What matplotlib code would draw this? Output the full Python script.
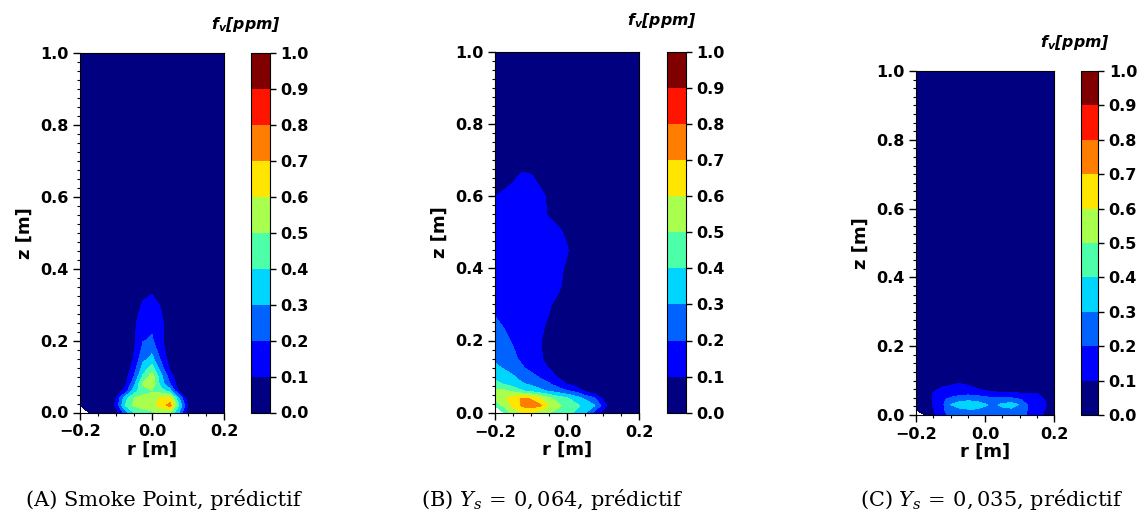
import numpy as np
import matplotlib
matplotlib.use("Agg")
import matplotlib.pyplot as plt
from matplotlib.ticker import MultipleLocator

plt.rcParams['mathtext.fontset'] = 'custom'
plt.rcParams['mathtext.rm'] = 'DejaVu Serif'
plt.rcParams['mathtext.it'] = 'DejaVu Serif:italic'
plt.rcParams['mathtext.bf'] = 'DejaVu Sans:bold:italic'

nan = np.nan

# radial grid (same for the three cases)
r = [-0.2, -0.175, -0.15, -0.125, -0.1, -0.075, -0.05, -0.025, 0.0,
     0.025, 0.05, 0.075, 0.1, 0.125, 0.15, 0.175, 0.2]

levels = [0.0, 0.1, 0.2, 0.3, 0.4, 0.5, 0.6, 0.7, 0.8, 0.9, 1.0]

# (A) smoke point, predictive
z_a = [0.0, 0.02, 0.04, 0.06, 0.08, 0.10, 0.12, 0.15, 0.20, 0.25, 0.30, 0.35, 0.40, 1.0]
fv_a = [
    [nan, 0, 0, 0, 0.04, 0.25, 0.40, 0.45, 0.48, 0.52, 0.50, 0.30, 0.05, 0, 0, 0, 0],
    [0, 0, 0, 0, 0.12, 0.40, 0.52, 0.55, 0.56, 0.64, 0.74, 0.40, 0.08, 0, 0, 0, 0],
    [0, 0, 0, 0, 0.10, 0.35, 0.50, 0.52, 0.54, 0.62, 0.64, 0.30, 0.04, 0, 0, 0, 0],
    [0, 0, 0, 0, 0.03, 0.14, 0.35, 0.47, 0.49, 0.45, 0.35, 0.08, 0, 0, 0, 0, 0],
    [0, 0, 0, 0, 0, 0.07, 0.27, 0.51, 0.58, 0.35, 0.20, 0.03, 0, 0, 0, 0, 0],
    [0, 0, 0, 0, 0, 0.05, 0.20, 0.42, 0.55, 0.33, 0.15, 0.02, 0, 0, 0, 0, 0],
    [0, 0, 0, 0, 0, 0.02, 0.16, 0.35, 0.46, 0.25, 0.09, 0, 0, 0, 0, 0, 0],
    [0, 0, 0, 0, 0, 0, 0.11, 0.27, 0.33, 0.18, 0.05, 0, 0, 0, 0, 0, 0],
    [0, 0, 0, 0, 0, 0, 0.08, 0.195, 0.215, 0.12, 0.03, 0, 0, 0, 0, 0, 0],
    [0, 0, 0, 0, 0, 0, 0.08, 0.16, 0.17, 0.12, 0.04, 0, 0, 0, 0, 0, 0],
    [0, 0, 0, 0, 0, 0, 0.02, 0.12, 0.14, 0.09, 0, 0, 0, 0, 0, 0, 0],
    [0, 0, 0, 0, 0, 0, 0, 0.03, 0.07, 0.03, 0, 0, 0, 0, 0, 0, 0],
    [0, 0, 0, 0, 0, 0, 0, 0, 0, 0, 0, 0, 0, 0, 0, 0, 0],
    [0, 0, 0, 0, 0, 0, 0, 0, 0, 0, 0, 0, 0, 0, 0, 0, 0],
]

# (B) Ys = 0,064, predictive
z_b = [0.0, 0.02, 0.04, 0.06, 0.08, 0.10, 0.125, 0.15, 0.20, 0.25, 0.30, 0.35,
       0.40, 0.45, 0.50, 0.55, 0.60, 0.65, 0.70, 1.0]
fv_b = [
    [nan, 0.40, 0.55, 0.60, 0.60, 0.55, 0.50, 0.47, 0.44, 0.38, 0.31, 0.18, 0.05, 0, 0, 0, 0],
    [0.45, 0.52, 0.62, 0.72, 0.75, 0.72, 0.59, 0.52, 0.47, 0.42, 0.37, 0.31, 0.16, 0, 0, 0, 0],
    [0.52, 0.58, 0.65, 0.71, 0.69, 0.61, 0.52, 0.46, 0.41, 0.35, 0.28, 0.22, 0.08, 0, 0, 0, 0],
    [0.53, 0.52, 0.48, 0.41, 0.37, 0.33, 0.29, 0.25, 0.21, 0.17, 0.08, 0.03, 0, 0, 0, 0, 0],
    [0.43, 0.39, 0.35, 0.31, 0.28, 0.24, 0.21, 0.15, 0.095, 0.06, 0.02, 0, 0, 0, 0, 0, 0],
    [0.37, 0.34, 0.31, 0.26, 0.23, 0.19, 0.14, 0.09, 0.06, 0.02, 0, 0, 0, 0, 0, 0, 0],
    [0.32, 0.29, 0.25, 0.21, 0.17, 0.13, 0.095, 0.06, 0.03, 0, 0, 0, 0, 0, 0, 0, 0],
    [0.28, 0.25, 0.22, 0.18, 0.145, 0.11, 0.07, 0.04, 0.02, 0, 0, 0, 0, 0, 0, 0, 0],
    [0.24, 0.22, 0.19, 0.16, 0.13, 0.105, 0.07, 0.04, 0.02, 0, 0, 0, 0, 0, 0, 0, 0],
    [0.21, 0.19, 0.17, 0.15, 0.13, 0.115, 0.09, 0.05, 0.02, 0, 0, 0, 0, 0, 0, 0, 0],
    [0.18, 0.17, 0.16, 0.15, 0.14, 0.13, 0.11, 0.07, 0.03, 0, 0, 0, 0, 0, 0, 0, 0],
    [0.16, 0.16, 0.15, 0.15, 0.14, 0.14, 0.13, 0.12, 0.06, 0.02, 0, 0, 0, 0, 0, 0, 0],
    [0.15, 0.15, 0.15, 0.14, 0.14, 0.14, 0.13, 0.13, 0.08, 0.03, 0, 0, 0, 0, 0, 0, 0],
    [0.15, 0.15, 0.14, 0.14, 0.14, 0.14, 0.14, 0.14, 0.11, 0.03, 0, 0, 0, 0, 0, 0, 0],
    [0.14, 0.14, 0.14, 0.14, 0.14, 0.14, 0.14, 0.13, 0.07, 0.01, 0, 0, 0, 0, 0, 0, 0],
    [0.13, 0.13, 0.13, 0.13, 0.13, 0.13, 0.09, 0.04, 0, 0, 0, 0, 0, 0, 0, 0, 0],
    [0.098, 0.12, 0.13, 0.13, 0.12, 0.12, 0.085, 0.02, 0, 0, 0, 0, 0, 0, 0, 0, 0],
    [0.04, 0.06, 0.09, 0.115, 0.11, 0.08, 0.04, 0, 0, 0, 0, 0, 0, 0, 0, 0, 0],
    [0, 0, 0.05, 0.07, 0.06, 0.03, 0, 0, 0, 0, 0, 0, 0, 0, 0, 0, 0],
    [0, 0, 0, 0, 0, 0, 0, 0, 0, 0, 0, 0, 0, 0, 0, 0, 0],
]

# (C) Ys = 0,035, predictive
z_c = [0.0, 0.015, 0.03, 0.045, 0.06, 0.075, 0.09, 0.105, 1.0]
fv_c = [
    [nan, 0, 0.08, 0.15, 0.24, 0.24, 0.25, 0.25, 0.24, 0.24, 0.24, 0.23, 0.23, 0.19, 0.14, 0.08, 0],
    [0, 0, 0.09, 0.17, 0.26, 0.28, 0.29, 0.29, 0.28, 0.27, 0.28, 0.28, 0.26, 0.19, 0.15, 0.09, 0],
    [0, 0.04, 0.11, 0.17, 0.30, 0.34, 0.36, 0.35, 0.31, 0.28, 0.32, 0.34, 0.295, 0.195, 0.16, 0.11, 0],
    [0, 0.03, 0.11, 0.18, 0.23, 0.27, 0.28, 0.27, 0.25, 0.23, 0.24, 0.24, 0.205, 0.15, 0.14, 0.09, 0],
    [0, 0.04, 0.105, 0.14, 0.16, 0.18, 0.19, 0.18, 0.16, 0.14, 0.13, 0.13, 0.12, 0.12, 0.11, 0.05, 0],
    [0, 0.02, 0.08, 0.12, 0.13, 0.14, 0.13, 0.11, 0.08, 0.06, 0.05, 0.05, 0.04, 0.03, 0.02, 0, 0],
    [0, 0, 0.03, 0.07, 0.09, 0.105, 0.09, 0.06, 0.03, 0, 0, 0, 0, 0, 0, 0, 0],
    [0, 0, 0, 0.03, 0.05, 0.06, 0.05, 0.03, 0, 0, 0, 0, 0, 0, 0, 0, 0],
    [0, 0, 0, 0, 0, 0, 0, 0, 0, 0, 0, 0, 0, 0, 0, 0, 0],
]

captions = ["(A) Smoke Point, prédictif",
            r"(B) $Y_s\,=\,0,064$, prédictif",
            r"(C) $Y_s\,=\,0,035$, prédictif"]

W, H = 1146, 512
# pixel boxes: axes (left, top, right, bottom), colorbar (left, right), title centre, caption centre
panels = [
    dict(z=z_a, fv=fv_a, ax=(80, 53, 224, 412.5), cb=(251, 270), title=(246, 24), cap=163),
    dict(z=z_b, fv=fv_b, ax=(495, 51.7, 639.3, 412.7), cb=(666.7, 686), title=(662, 20), cap=552),
    dict(z=z_c, fv=fv_c, ax=(916, 71, 1054.3, 415), cb=(1080.7, 1098.3), title=(1075, 43), cap=992),
]

cmap = matplotlib.colormaps['jet'].resampled(10)
fs = 11.5

fig = plt.figure(figsize=(W / 100, H / 100), dpi=100)

for p, cap in zip(panels, captions):
    x0, y0, x1, y1 = p['ax']
    ax = fig.add_axes([x0 / W, 1 - y1 / H, (x1 - x0) / W, (y1 - y0) / H])
    RR, ZZ = np.meshgrid(r, p['z'])
    F = np.ma.masked_invalid(np.array(p['fv'], dtype=float))
    cs = ax.contourf(RR, ZZ, F, levels=levels, cmap=cmap, corner_mask=True)
    ax.set_xlim(-0.2, 0.2)
    ax.set_ylim(0, 1)
    ax.set_xticks([-0.2, 0.0, 0.2])
    ax.set_yticks([0.0, 0.2, 0.4, 0.6, 0.8, 1.0])
    ax.xaxis.set_minor_locator(MultipleLocator(0.05))
    ax.yaxis.set_minor_locator(MultipleLocator(0.025))
    ax.tick_params(which='major', length=5, width=1, labelsize=fs)
    ax.tick_params(which='minor', length=2.5, width=0.8)
    for lab in ax.get_xticklabels() + ax.get_yticklabels():
        lab.set_fontweight('bold')
    ax.set_xlabel('r [m]', fontsize=13, fontweight='bold', labelpad=1)
    ax.set_ylabel('z [m]', fontsize=13, fontweight='bold', labelpad=4)

    c0, c1 = p['cb']
    cax = fig.add_axes([c0 / W, 1 - y1 / H, (c1 - c0) / W, (y1 - y0) / H])
    cb = fig.colorbar(cs, cax=cax, ticks=levels)
    cb.ax.set_yticklabels(['%.1f' % v for v in levels])
    cb.ax.tick_params(length=4, width=1, labelsize=fs)
    for lab in cb.ax.get_yticklabels():
        lab.set_fontweight('bold')

    tx, ty = p['title']
    fig.text(tx / W, 1 - ty / H, r'$\mathbf{f_v}$[ppm]', ha='center', va='center',
             fontsize=11.3, fontweight='bold', fontstyle='italic', family='DejaVu Sans')
    fig.text(p['cap'] / W, 1 - 499 / H, cap, ha='center', va='center',
             fontsize=15, family='DejaVu Serif')

fig.savefig('out.png', dpi=100)
